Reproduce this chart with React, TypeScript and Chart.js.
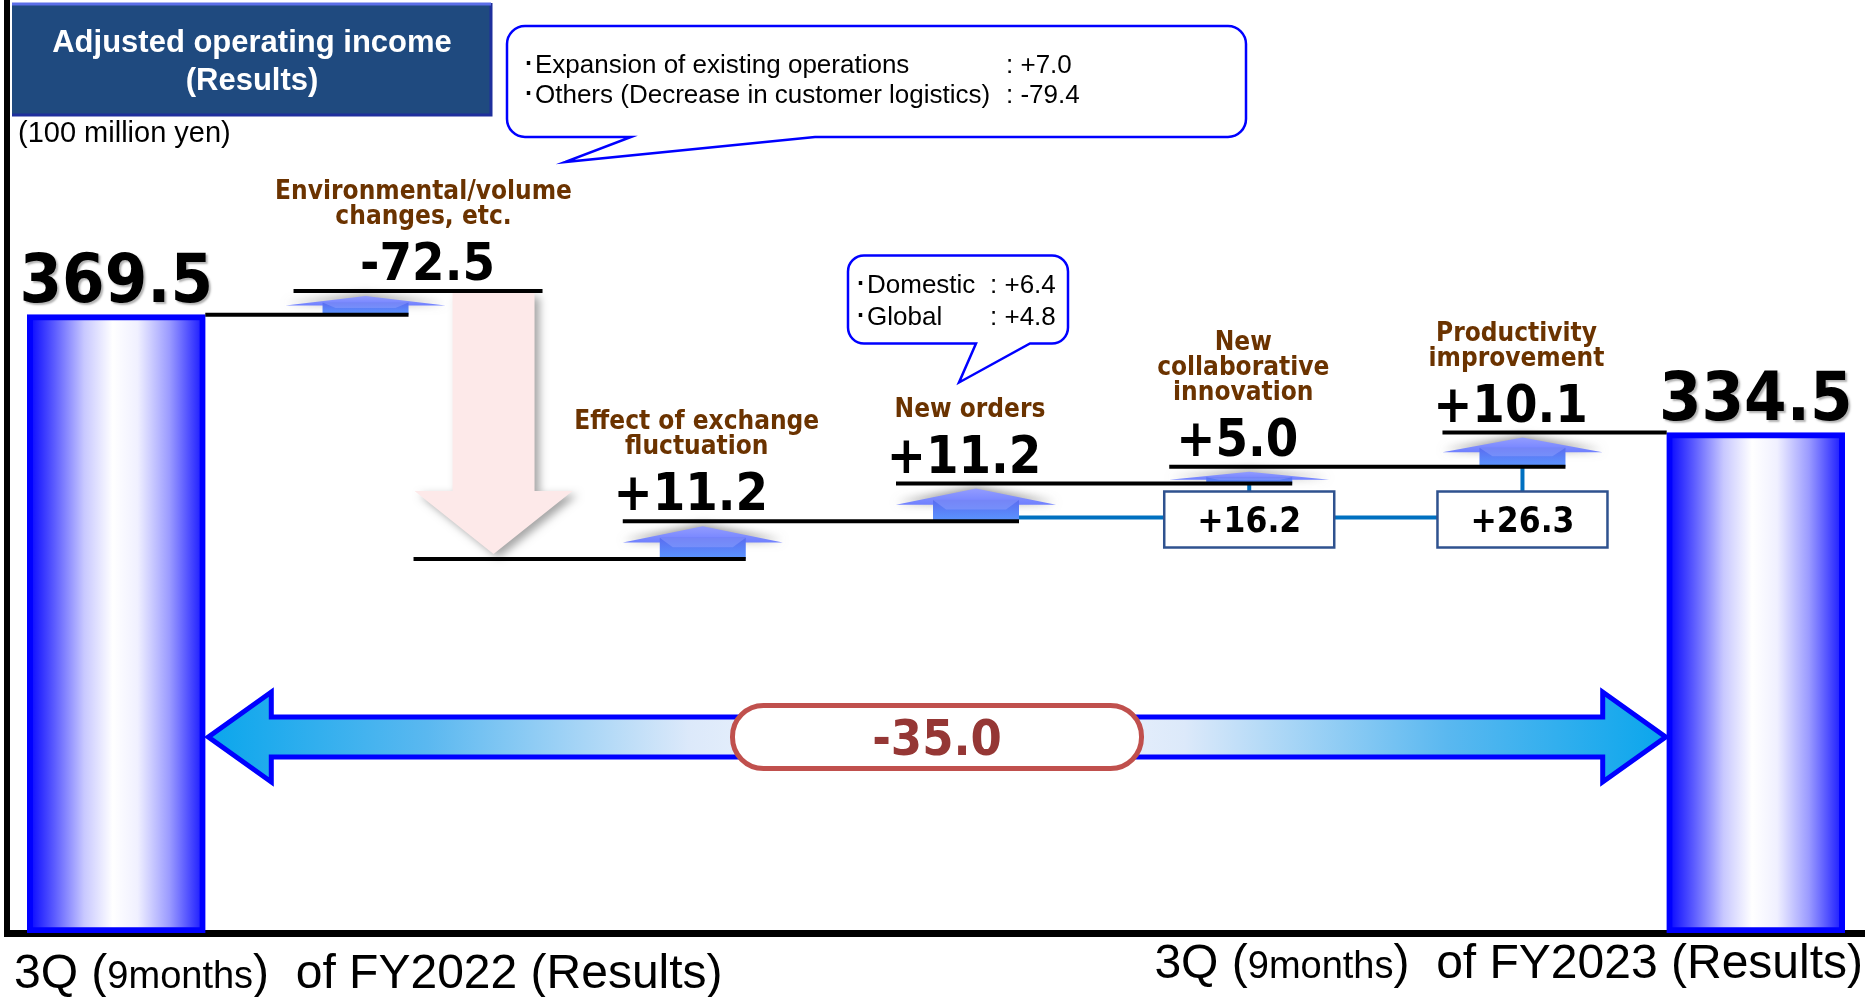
import { useEffect, useRef } from "react";
import { Chart, registerables } from "chart.js";
import type { Plugin, ScriptableContext } from "chart.js";

Chart.register(...registerables);

// values in 100 million yen
const fiscalYears = ["FY2022", "FY2023"];
const totals = [369.5, 334.5];

const stepNames = [
  ["Environmental/volume", "changes, etc."],
  ["Effect of exchange", "fluctuation"],
  ["New orders"],
  ["New", "collaborative", "innovation"],
  ["Productivity", "improvement"],
];
const stepValues = [-72.5, 11.2, 11.2, 5.0, 10.1];

const envItems = ["Expansion of existing operations", "Others (Decrease in customer logistics)"];
const envValues = [7.0, -79.4];

const orderItems = ["Domestic", "Global"];
const orderValues = [6.4, 4.8];

const titleLines = ["Adjusted operating income", "(Results)"];
const unitLabel = "(100 million yen)";

// axis ranges (the step part is drawn on a truncated axis)
const Y_MIN = 186;
const Y_MAX = 462;
const X_MIN = -0.4;
const X_MAX = 6.4;

const BAR_W = 178;
const STEP_SHIFT = 40; // steps sit a little right of their slot centre
const ARIAL = '"Liberation Sans", Arial, sans-serif';
const TAHOMA = '"DejaVu Sans Condensed", "DejaVu Sans", sans-serif';
const BROWN = "#6b3300";

const fmt = (v: number) => (v > 0 ? "+" : "") + v.toFixed(1);

// running level after each step
const levels = stepValues.reduce((acc, v) => [...acc, acc[acc.length - 1] + v], [totals[0]]);
const envPeak = totals[0] + envValues[0];

type Ctx = CanvasRenderingContext2D;

function text(ctx: Ctx, s: string, x: number, y: number, font: string, color: string, align: CanvasTextAlign = "left") {
  ctx.font = font;
  ctx.fillStyle = color;
  ctx.textAlign = align;
  ctx.textBaseline = "alphabetic";
  ctx.fillText(s, x, y);
}

function hline(ctx: Ctx, x0: number, x1: number, y: number) {
  ctx.beginPath();
  ctx.moveTo(x0, y);
  ctx.lineTo(x1, y);
  ctx.strokeStyle = "#000";
  ctx.lineWidth = 4;
  ctx.stroke();
}

function callout(ctx: Ctx, x0: number, y0: number, x1: number, y1: number, r: number,
  tailL: number, tailR: number, tipX: number, tipY: number) {
  ctx.beginPath();
  ctx.moveTo(x0 + r, y0);
  ctx.arcTo(x1, y0, x1, y1, r);
  ctx.arcTo(x1, y1, x0, y1, r);
  ctx.lineTo(tailR, y1);
  ctx.lineTo(tipX, tipY);
  ctx.lineTo(tailL, y1);
  ctx.arcTo(x0, y1, x0, y0, r);
  ctx.arcTo(x0, y0, x1, y0, r);
  ctx.closePath();
  ctx.fillStyle = "#fff";
  ctx.fill();
  ctx.strokeStyle = "#0000ff";
  ctx.lineWidth = 2.5;
  ctx.lineJoin = "miter";
  ctx.stroke();
}

function upArrow(ctx: Ctx, cx: number, yBottom: number, yTop: number) {
  const top = yTop + 5;
  const h = Math.max(10, yBottom - top);
  const headH = Math.max(8, h * 0.5);
  const base = top + headH;
  ctx.save();
  ctx.shadowColor = "rgba(60,60,60,0.55)";
  ctx.shadowBlur = 10;
  ctx.shadowOffsetY = -2;
  const hg = ctx.createLinearGradient(0, top, 0, base);
  hg.addColorStop(0, "#939cff");
  hg.addColorStop(1, "#6f80ff");
  ctx.fillStyle = hg;
  ctx.beginPath();
  ctx.moveTo(cx - 80, base);
  ctx.lineTo(cx, top);
  ctx.lineTo(cx + 80, base);
  ctx.closePath();
  ctx.fill();
  ctx.restore();

  const sTop = base - headH * 0.3;
  const sg = ctx.createLinearGradient(0, sTop, 0, yBottom);
  sg.addColorStop(0, "#5a6cf0");
  sg.addColorStop(1, "#5b96ff");
  ctx.fillStyle = sg;
  ctx.fillRect(cx - 43, sTop, 86, yBottom - sTop);
  ctx.beginPath();
  ctx.moveTo(cx - 43, sTop);
  ctx.lineTo(cx - 30, sTop + (yBottom - sTop) * 0.45);
  ctx.lineTo(cx + 30, sTop + (yBottom - sTop) * 0.45);
  ctx.lineTo(cx + 43, sTop);
  ctx.closePath();
  ctx.fillStyle = "rgba(150,165,255,0.45)";
  ctx.fill();
}

function downArrow(ctx: Ctx, cx: number, yTop: number, yBottom: number) {
  const tip = yBottom - 5;
  const shaftTop = yTop + 2;
  const shaftBottom = tip - 63;
  ctx.save();
  ctx.shadowColor = "rgba(0,0,0,0.35)";
  ctx.shadowBlur = 8;
  ctx.shadowOffsetX = 5;
  ctx.shadowOffsetY = 4;
  ctx.fillStyle = "#fde9e9";
  ctx.beginPath();
  ctx.moveTo(cx - 41, shaftTop);
  ctx.lineTo(cx + 41, shaftTop);
  ctx.lineTo(cx + 41, shaftBottom);
  ctx.lineTo(cx + 79, shaftBottom);
  ctx.lineTo(cx, tip);
  ctx.lineTo(cx - 79, shaftBottom);
  ctx.lineTo(cx - 41, shaftBottom);
  ctx.closePath();
  ctx.fill();
  ctx.restore();
}

function periodLabel(ctx: Ctx, fy: string, x: number, y: number, alignRight: boolean) {
  const big = `48px ${ARIAL}`;
  const small = `38px ${ARIAL}`;
  const parts: [string, string][] = [["3Q (", big], ["9months", small], [`)  of ${fy} (Results)`, big]];
  let total = 0;
  for (const [s, f] of parts) {
    ctx.font = f;
    total += ctx.measureText(s).width;
  }
  let cx = alignRight ? x - total : x;
  for (const [s, f] of parts) {
    text(ctx, s, cx, y, f, "#000");
    cx += ctx.measureText(s).width;
  }
}

const decor: Plugin<"bar"> = {
  id: "decor",
  afterDatasetsDraw(chart) {
    const ctx = chart.ctx;
    const xs = chart.scales.x;
    const ys = chart.scales.y;
    const area = chart.chartArea;
    const X = (i: number) => xs.getPixelForValue(i);
    const SX = (i: number) => X(i) + STEP_SHIFT;
    const Y = (v: number) => ys.getPixelForValue(v);
    const lastIdx = stepValues.length + 1;
    if (!Number.isFinite(X(0)) || !Number.isFinite(Y(totals[0]))) return;
    ctx.save();

    // title block
    ctx.fillStyle = "#1f4a7f";
    ctx.fillRect(12, 3, 479, 112);
    ctx.strokeStyle = "#1e2f9c";
    ctx.lineWidth = 3;
    ctx.beginPath();
    ctx.moveTo(491, 3);
    ctx.lineTo(491, 115);
    ctx.lineTo(12, 115);
    ctx.stroke();
    ctx.strokeStyle = "#5b6ee8";
    ctx.beginPath();
    ctx.moveTo(12, 4);
    ctx.lineTo(491, 4);
    ctx.stroke();
    text(ctx, titleLines[0], 252, 52, `bold 31px ${ARIAL}`, "#fff", "center");
    text(ctx, titleLines[1], 252, 90, `bold 31px ${ARIAL}`, "#fff", "center");
    text(ctx, unitLabel, 18, 142, `29px ${ARIAL}`, "#000");

    // breakdown callout for environmental/volume changes
    callout(ctx, 507, 26, 1246, 137, 18, 631, 815, 565, 162);
    envItems.forEach((s, i) => {
      const y = 73 + i * 30;
      text(ctx, "･" + s, 522, y, `26px ${ARIAL}`, "#000");
      text(ctx, ": " + fmt(envValues[i]), 1006, y, `26px ${ARIAL}`, "#000");
    });

    const envX = SX(1);
    const upX = envX - 64;
    const downX = envX + 64;

    // arrows
    upArrow(ctx, upX, Y(levels[0]), Y(envPeak));
    downArrow(ctx, downX, Y(envPeak), Y(levels[1]));
    for (let k = 1; k < stepValues.length; k++) {
      upArrow(ctx, SX(k + 1), Y(levels[k]), Y(levels[k + 1]));
    }

    // cumulative boxes: new orders + collaborative innovation (+ productivity)
    const boxTop = Y(levels[3]) + 8;
    const boxH = 56;
    const boxW = 170;
    const connY = boxTop + boxH / 2 - 2;
    ctx.strokeStyle = "#0070c0";
    ctx.lineWidth = 4;
    ctx.beginPath();
    ctx.moveTo(SX(3) + 43, connY);
    ctx.lineTo(SX(5) - boxW / 2, connY);
    ctx.moveTo(SX(4), Y(levels[3]));
    ctx.lineTo(SX(4), boxTop);
    ctx.moveTo(SX(5), Y(levels[4]));
    ctx.lineTo(SX(5), boxTop);
    ctx.stroke();

    // level lines
    hline(ctx, X(0) + BAR_W / 2, upX + 43, Y(levels[0]));
    hline(ctx, upX - 72, downX + 49, Y(envPeak));
    for (let k = 0; k < stepValues.length; k++) {
      const from = k === 0 ? downX - 80 : SX(k + 1) - 80;
      const to = k < stepValues.length - 1 ? SX(k + 2) + 43 : X(lastIdx) - BAR_W / 2;
      hline(ctx, from, to, Y(levels[k + 1]));
    }

    // boxes
    let run = 0;
    for (let k = 2; k < stepValues.length; k++) {
      run += stepValues[k];
      if (k < 3) continue;
      const bx = SX(k + 1) - boxW / 2;
      ctx.fillStyle = "#fff";
      ctx.fillRect(bx, boxTop, boxW, boxH);
      ctx.strokeStyle = "#2f528f";
      ctx.lineWidth = 2.5;
      ctx.strokeRect(bx, boxTop, boxW, boxH);
      text(ctx, fmt(run), SX(k + 1), boxTop + boxH / 2 + 12, `bold 35px ${TAHOMA}`, "#000", "center");
    }

    // step numbers and names
    stepValues.forEach((v, k) => {
      const cx = SX(k + 1);
      const lineY = k === 0 ? Y(envPeak) : Y(levels[k + 1]);
      const numY = lineY - 11;
      const numX = k === 0 ? cx - 2 : cx - 12;
      text(ctx, fmt(v), numX, numY, `bold 52px ${TAHOMA}`, "#000", "center");
      const names = stepNames[k];
      names.forEach((s, j) => {
        const y = numY - 56 - (names.length - 1 - j) * 25;
        text(ctx, s, cx - 6, y, `bold 26px ${TAHOMA}`, BROWN, "center");
      });
    });

    // new orders breakdown callout
    const noX = SX(3);
    const noLabelY = Y(levels[3]) - 11 - 56;
    const tipY = noLabelY - 34;
    const cb = tipY - 39;
    callout(ctx, noX - 128, cb - 88, noX + 92, cb, 16, noX, noX + 54, noX - 17, tipY);
    orderItems.forEach((s, i) => {
      const y = cb - 88 + 37 + i * 32;
      text(ctx, "･" + s, noX - 122, y, `26px ${ARIAL}`, "#000");
      text(ctx, ": " + fmt(orderValues[i]), noX + 14, y, `26px ${ARIAL}`, "#000");
    });

    // total difference arrow
    const xl = X(0) + BAR_W / 2 + 3;
    const xr = X(lastIdx) - BAR_W / 2 - 1;
    const cy = area.bottom - 196;
    const g = ctx.createLinearGradient(xl, 0, xr, 0);
    g.addColorStop(0, "#0aa6ec");
    g.addColorStop(0.15, "#5ab8f0");
    g.addColorStop(0.33, "#dce9fa");
    g.addColorStop(0.5, "#ffffff");
    g.addColorStop(0.67, "#dce9fa");
    g.addColorStop(0.85, "#5ab8f0");
    g.addColorStop(1, "#0aa6ec");
    ctx.beginPath();
    ctx.moveTo(xl, cy);
    ctx.lineTo(xl + 63, cy - 45);
    ctx.lineTo(xl + 63, cy - 20);
    ctx.lineTo(xr - 63, cy - 20);
    ctx.lineTo(xr - 63, cy - 45);
    ctx.lineTo(xr, cy);
    ctx.lineTo(xr - 63, cy + 45);
    ctx.lineTo(xr - 63, cy + 20);
    ctx.lineTo(xl + 63, cy + 20);
    ctx.lineTo(xl + 63, cy + 45);
    ctx.closePath();
    ctx.fillStyle = g;
    ctx.fill();
    ctx.strokeStyle = "#0000ff";
    ctx.lineWidth = 5;
    ctx.lineJoin = "miter";
    ctx.stroke();

    const mid = (xl + xr) / 2;
    const pw = 409;
    const ph = 63;
    const r = 31;
    const px = mid - pw / 2;
    const py = cy - ph / 2;
    ctx.beginPath();
    ctx.moveTo(px + r, py);
    ctx.arcTo(px + pw, py, px + pw, py + ph, r);
    ctx.arcTo(px + pw, py + ph, px, py + ph, r);
    ctx.arcTo(px, py + ph, px, py, r);
    ctx.arcTo(px, py, px + pw, py, r);
    ctx.closePath();
    ctx.fillStyle = "#fff";
    ctx.fill();
    ctx.strokeStyle = "#c0504d";
    ctx.lineWidth = 5;
    ctx.stroke();
    text(ctx, fmt(totals[1] - totals[0]), mid, cy + 18, `bold 50px ${TAHOMA}`, "#953735", "center");

    // totals above bars
    const meta = chart.getDatasetMeta(0);
    meta.data.forEach((el, i) => {
      const p = el.getProps(["x", "y"], true) as { x: number; y: number };
      const s = totals[i].toFixed(1);
      ctx.font = `bold 68px ${TAHOMA}`;
      const w = ctx.measureText(s).width;
      const tx = Math.min(Math.max(p.x, 14 + w / 2), chart.width - 6 - w / 2);
      ctx.save();
      ctx.shadowColor = "rgba(0,0,0,0.3)";
      ctx.shadowOffsetX = 2;
      ctx.shadowOffsetY = 2;
      ctx.shadowBlur = 2;
      text(ctx, s, tx, p.y - 13, `bold 68px ${TAHOMA}`, "#000", "center");
      ctx.restore();
    });

    // period labels under the axis
    periodLabel(ctx, fiscalYears[0], 14, 988, false);
    periodLabel(ctx, fiscalYears[1], chart.width - 2, 978, true);

    ctx.restore();
  },
};

function barFill(c: ScriptableContext<"bar">) {
  const chart = c.chart;
  const raw = c.raw as { x: number; y: number } | undefined;
  const xs = chart.scales.x;
  if (!raw || !xs) return "#6666ff";
  const cx = xs.getPixelForValue(raw.x);
  if (!Number.isFinite(cx)) return "#6666ff";
  const g = chart.ctx.createLinearGradient(cx - BAR_W / 2, 0, cx + BAR_W / 2, 0);
  g.addColorStop(0, "#0000ff");
  g.addColorStop(0.15, "#5a5aff");
  g.addColorStop(0.32, "#c8c8ff");
  g.addColorStop(0.48, "#ffffff");
  g.addColorStop(0.62, "#f0f0ff");
  g.addColorStop(0.8, "#9a9aff");
  g.addColorStop(1, "#1010ff");
  return g;
}

export default function App() {
  const canvasRef = useRef<HTMLCanvasElement>(null);

  useEffect(() => {
    if (!canvasRef.current) return;
    const chart = new Chart(canvasRef.current, {
      type: "bar",
      data: {
        datasets: [
          {
            data: totals.map((y, i) => ({ x: i === 0 ? 0 : stepValues.length + 1, y })),
            base: Y_MIN,
            barThickness: BAR_W,
            backgroundColor: barFill,
            borderColor: "#0000ff",
            borderWidth: 6,
            borderSkipped: false,
          },
        ],
      },
      options: {
        responsive: false,
        animation: false,
        events: [],
        layout: { padding: { left: 7, top: 3, right: 0, bottom: 64 } },
        plugins: { legend: { display: false }, tooltip: { enabled: false } },
        scales: {
          x: {
            type: "linear",
            min: X_MIN,
            max: X_MAX,
            offset: false,
            z: 1,
            grid: { display: false, drawTicks: false, offset: false },
            ticks: { display: false },
            border: { display: true, color: "#000", width: 7 },
          },
          y: {
            type: "linear",
            min: Y_MIN,
            max: Y_MAX,
            z: 1,
            grid: { display: false, drawTicks: false },
            ticks: { display: false },
            border: { display: true, color: "#000", width: 6 },
          },
        },
      },
      plugins: [decor],
    });
    chart.update();
    return () => chart.destroy();
  }, []);

  return (
    <div style={{ position: "absolute", left: 0, top: 0, width: 1865, height: 997, background: "#fff" }}>
      <canvas ref={canvasRef} width={1865} height={997} />
    </div>
  );
}
